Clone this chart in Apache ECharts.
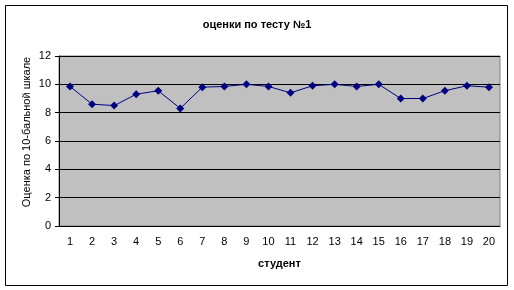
<!DOCTYPE html>
<html>
<head>
<meta charset="utf-8">
<script src="https://cdn.jsdelivr.net/npm/echarts@6/dist/echarts.min.js"></script>
<style>
    html, body { margin: 0; padding: 0; background: #fff; }
    #chart { width: 514px; height: 290px; }
</style>
</head>
<body>
<div id="chart"></div>
<script>
    let students = ['1', '2', '3', '4', '5', '6', '7', '8', '9', '10', '11', '12', '13', '14', '15', '16', '17', '18', '19', '20'];
    let scores = [9.85, 8.6, 8.5, 9.3, 9.55, 8.3, 9.8, 9.85, 10, 9.85, 9.4, 9.9, 10, 9.85, 10, 9.0, 9.0, 9.55, 9.9, 9.8];
    let yTicks = [0, 2, 4, 6, 8, 10, 12];

    let myChart = echarts.init(document.getElementById('chart'));
    let font = 'Arial, "Liberation Sans", sans-serif';
    let option = {
        animation: false,
        title: {
            text: 'оценки по тесту №1',
            left: 'center',
            top: 14,
            textStyle: { fontFamily: font, fontSize: 11, fontWeight: 'bold', color: '#000' }
        },
        graphic: [{
            type: 'rect',
            shape: { x: 5.5, y: 5.5, width: 502, height: 280 },
            style: { fill: 'none', stroke: '#000', lineWidth: 1 },
            z: 100
        }],
        grid: {
            left: 59,
            right: 14,
            top: 56,
            bottom: 64,
            show: true,
            backgroundColor: '#c0c0c0',
            borderColor: '#808080',
            borderWidth: 1
        },
        xAxis: {
            type: 'category',
            data: students,
            boundaryGap: true,
            name: 'студент',
            nameLocation: 'middle',
            nameGap: 32,
            nameTextStyle: { fontFamily: font, fontSize: 11, fontWeight: 'bold', color: '#000' },
            axisLine: { lineStyle: { color: '#000', width: 1 } },
            axisTick: { length: 4, lineStyle: { color: '#000' } },
            axisLabel: { fontFamily: font, fontSize: 11, color: '#000', margin: 10, interval: 0 }
        },
        yAxis: {
            type: 'value',
            min: yTicks[0],
            max: yTicks[yTicks.length - 1],
            interval: 2,
            name: 'Оценка по 10-бальной шкале',
            nameLocation: 'middle',
            nameGap: 27,
            nameMoveOverlap: false,
            nameTextStyle: { fontFamily: font, fontSize: 11, color: '#000', padding: [0, 0, 0, 18] },
            axisLine: { show: true, lineStyle: { color: '#000', width: 1 } },
            axisTick: { show: true, length: 4, lineStyle: { color: '#000' } },
            axisLabel: { fontFamily: font, fontSize: 11, color: '#000', margin: 8 },
            splitLine: { lineStyle: { color: '#000', width: 1 } }
        },
        series: [{
            type: 'line',
            data: scores,
            symbol: 'diamond',
            symbolSize: 8,
            itemStyle: { color: '#000080' },
            lineStyle: { color: '#000080', width: 1 }
        }]
    };
    myChart.setOption(option);
</script>
</body>
</html>
